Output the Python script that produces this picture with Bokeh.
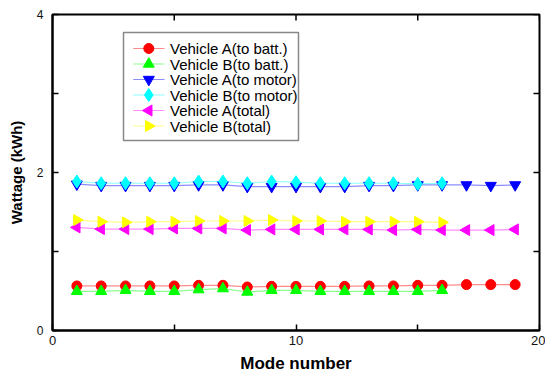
import numpy as np
from bokeh.plotting import figure
from bokeh.models import FixedTicker, Range1d
from bokeh.core.properties import value
from bokeh.embed import file_html
from bokeh.resources import INLINE

mode_a = list(range(1, 20))
mode_b = list(range(1, 17))
a_batt = [0.564, 0.564, 0.564, 0.564, 0.564, 0.572, 0.572, 0.551, 0.559, 0.559,
          0.559, 0.559, 0.564, 0.564, 0.572, 0.572, 0.581, 0.581, 0.581]
b_batt = [0.496, 0.496, 0.508, 0.496, 0.496, 0.517, 0.53, 0.487, 0.508, 0.508,
          0.496, 0.496, 0.496, 0.496, 0.496, 0.508]
a_motor = [1.852, 1.835, 1.835, 1.835, 1.835, 1.843, 1.843, 1.822, 1.822, 1.822,
           1.822, 1.822, 1.835, 1.835, 1.843, 1.843, 1.843, 1.835, 1.843]
b_motor = [1.886, 1.864, 1.864, 1.864, 1.864, 1.886, 1.886, 1.864, 1.886, 1.877,
           1.864, 1.864, 1.864, 1.864, 1.856, 1.864]
a_total = [1.305, 1.284, 1.284, 1.284, 1.292, 1.292, 1.292, 1.271, 1.280, 1.280,
           1.280, 1.280, 1.280, 1.271, 1.280, 1.271, 1.271, 1.271, 1.280]
b_total = [1.398, 1.377, 1.369, 1.377, 1.377, 1.386, 1.386, 1.386, 1.398, 1.386,
           1.386, 1.377, 1.377, 1.377, 1.377, 1.369]

labels = ["Vehicle A(to batt.)", "Vehicle B(to batt.)", "Vehicle A(to motor)",
          "Vehicle B(to motor)", "Vehicle A(total)", "Vehicle B(total)"]

x_ticks = [0, 10, 20]
x_minor = [5, 15]
y_ticks = [0, 2, 4]
y_minor = [1, 3]

FONT = "Liberation Sans"
FW, FH = 487, 316

p = figure(frame_width=FW, frame_height=FH, output_backend="svg", toolbar_location=None,
           x_range=Range1d(0, 20), y_range=Range1d(0, 4),
           min_border_left=52, min_border_right=6, min_border_top=14, min_border_bottom=46)
p.extra_x_ranges = {"px": Range1d(0, FW)}
p.extra_y_ranges = {"px": Range1d(0, FH)}
p.grid.visible = False
p.outline_line_color = "black"
p.outline_line_width = 2

for ax in (p.xaxis[0], p.yaxis[0]):
    ax.axis_line_color = "black"
    ax.axis_line_width = 2
    ax.major_tick_in = 6
    ax.major_tick_out = 0
    ax.minor_tick_in = 6
    ax.minor_tick_out = 0
    ax.major_tick_line_width = 1.5
    ax.minor_tick_line_width = 1.5
    ax.major_label_text_font = FONT
    ax.major_label_text_color = "#111"
    ax.axis_label_text_font = FONT
    ax.axis_label_text_font_style = "bold"
    ax.axis_label_text_color = "black"

p.xaxis.ticker = FixedTicker(ticks=x_ticks, minor_ticks=x_minor)
p.yaxis.ticker = FixedTicker(ticks=y_ticks, minor_ticks=y_minor)
p.xaxis.axis_label = "Mode number"
p.yaxis.axis_label = "Wattage (kWh)"
p.xaxis.major_label_text_font_size = "13px"
p.yaxis.major_label_text_font_size = "12px"
p.xaxis.axis_label_text_font_size = "17px"
p.yaxis.axis_label_text_font_size = "15px"
p.xaxis.major_label_standoff = 5
p.yaxis.major_label_standoff = 9
p.xaxis.axis_label_standoff = 6
p.yaxis.axis_label_standoff = 9

# mirror ticks on top and right edges
xt_all = x_ticks + x_minor
yt_all = y_ticks + y_minor
p.segment(x0=xt_all, x1=xt_all, y0=[FH] * len(xt_all), y1=[FH - 6] * len(xt_all),
          y_range_name="px", line_color="black", line_width=1.5)
p.segment(x0=[FW] * len(yt_all), x1=[FW - 6] * len(yt_all), y0=yt_all, y1=yt_all,
          x_range_name="px", line_color="black", line_width=1.5)

series = [
    (mode_a, a_batt, "#FF0000", "circle", 0.0, 10),
    (mode_b, b_batt, "#00FF00", "triangle", 0.0, 11),
    (mode_a, a_motor, "#0000FF", "inverted_triangle", 0.0, 11),
    (mode_b, b_motor, "#00FFFF", "diamond", 0.0, 13),
    (mode_a, a_total, "#FF00FF", "triangle", np.pi / 2, 11),
    (mode_b, b_total, "#FFFF00", "triangle", -np.pi / 2, 11),
]

for xs, ys, color, marker, ang, size in series:
    p.line(xs, ys, line_color=color, line_alpha=0.45, line_width=1.2)
    p.scatter(xs, ys, marker=marker, size=size, fill_color=color, line_color=color, angle=ang)

# legend drawn in frame-pixel coordinates
box_l, box_r, box_b, box_t = 71, 246, 190, 298
pitch = 15.5
row_top = 282
p.quad(left=box_l, right=box_r, bottom=box_b, top=box_t, x_range_name="px", y_range_name="px",
       fill_color="white", line_color="#888888", line_width=1.5)
for i, (lab, (xs, ys, color, marker, ang, size)) in enumerate(zip(labels, series)):
    yy = row_top - i * pitch
    p.line([80.7, 112], [yy, yy], x_range_name="px", y_range_name="px",
           line_color=color, line_alpha=0.45, line_width=1.2)
    p.scatter([96.3], [yy], marker=marker, size=size, angle=ang, fill_color=color,
              line_color=color, x_range_name="px", y_range_name="px")
    p.text([117.5], [yy], text=[lab], text_font=value(FONT), text_font_size="15px",
           text_baseline="middle", text_color="black", x_range_name="px", y_range_name="px")

open("out.html", "w").write(file_html(p, INLINE))
